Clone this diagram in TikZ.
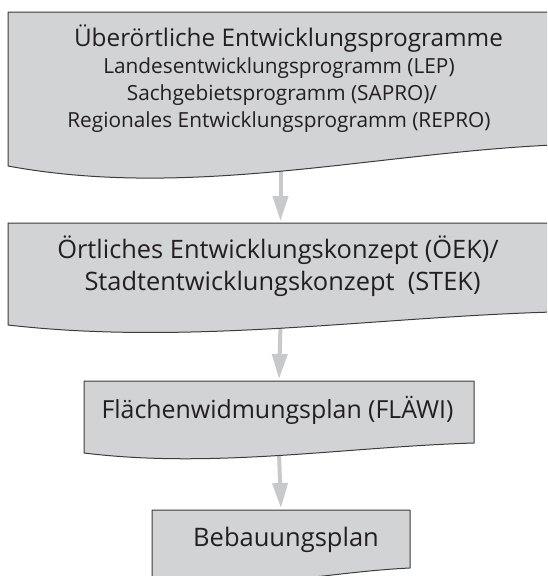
\documentclass[tikz,border=0pt]{standalone}
\usepackage{fontspec}
\setmainfont{Open Sans}
\usetikzlibrary{arrows.meta,calc}
\definecolor{boxfill}{HTML}{D1D3D4}
\definecolor{arrowgray}{HTML}{C8C9CB}
\definecolor{edgegray}{HTML}{3C3C3C}
\definecolor{textgray}{HTML}{231F20}
\tikzset{
  boxanchor/.style={draw=none, fill=none, inner sep=0pt, outer sep=0pt, rectangle},
  docbox/.style={fill=boxfill, draw=edgegray, line width=1pt, line join=round},
  flow/.style={draw=arrowgray, line width=4pt, shorten >=2pt,
    -{Triangle[width=15pt,length=25pt]}},
  lbl/.style={anchor=base, inner sep=0pt, text=textgray,
    font=\fontsize{#1}{#1}\selectfont}
}
\newcommand\drawdoc[2]{%
  \draw[docbox] (#1.north west) -- (#1.north east)
    -- ($(#1.south east)+(0,-#2)$)
    .. controls ($(#1.south west)!0.667!(#1.south east)+(0,-0.6*#2)$)
    and ($(#1.south west)!0.333!(#1.south east)+(0,1.6*#2)$)
    .. (#1.south west) -- cycle;}
\begin{document}
\begin{tikzpicture}[x=1pt,y=-1pt]
  \useasboundingbox (0,0) rectangle (547,576);
  \clip (0,0) rectangle (547,576);
  % box frames (for anchoring)
  \node[boxanchor, minimum width=545pt, minimum height=154pt] (b1) at (280.5,89) {};
  \node[boxanchor, minimum width=545pt, minimum height=102pt] (b2) at (280.5,274) {};
  \node[boxanchor, minimum width=390pt, minimum height=72pt] (b3) at (279,417) {};
  \node[boxanchor, minimum width=258pt, minimum height=68pt] (b4) at (281,544) {};
  % connectors
  \draw[flow] (b1.south) -- (b2.north);
  \draw[flow] (b2.south) -- (b3.north);
  \draw[flow] (b3.south) -- (b4.north);
  % document shapes
  \drawdoc{b1}{21}
  \drawdoc{b2}{13}
  \drawdoc{b3}{10}
  \drawdoc{b4}{10}
  % texts
  \node[lbl=24.3] (t1a) at (288.5,46) {Überörtliche Entwicklungsprogramme};
  \node[lbl=20.8] (t1b) at (279,73) {Landesentwicklungsprogramm (LEP)};
  \node[lbl=20.8] (t1c) at (282,100) {Sachgebietsprogramm (SAPRO)/};
  \node[lbl=20.8] (t1d) at (279,127) {Regionales Entwicklungsprogramm (REPRO)};
  \node[lbl=25.4] (t2a) at (278,258) {Örtliches Entwicklungskonzept (ÖEK)/};
  \node[lbl=25.4] (t2b) at (282.5,290) {Stadtentwicklungskonzept\ \ (STEK)};
  \node[lbl=24.9] (t3) at (277.5,418) {Flächenwidmungsplan (FLÄWI)};
  \node[lbl=25.5] (t4) at (286,546) {Bebauungsplan};
\end{tikzpicture}
\end{document}
